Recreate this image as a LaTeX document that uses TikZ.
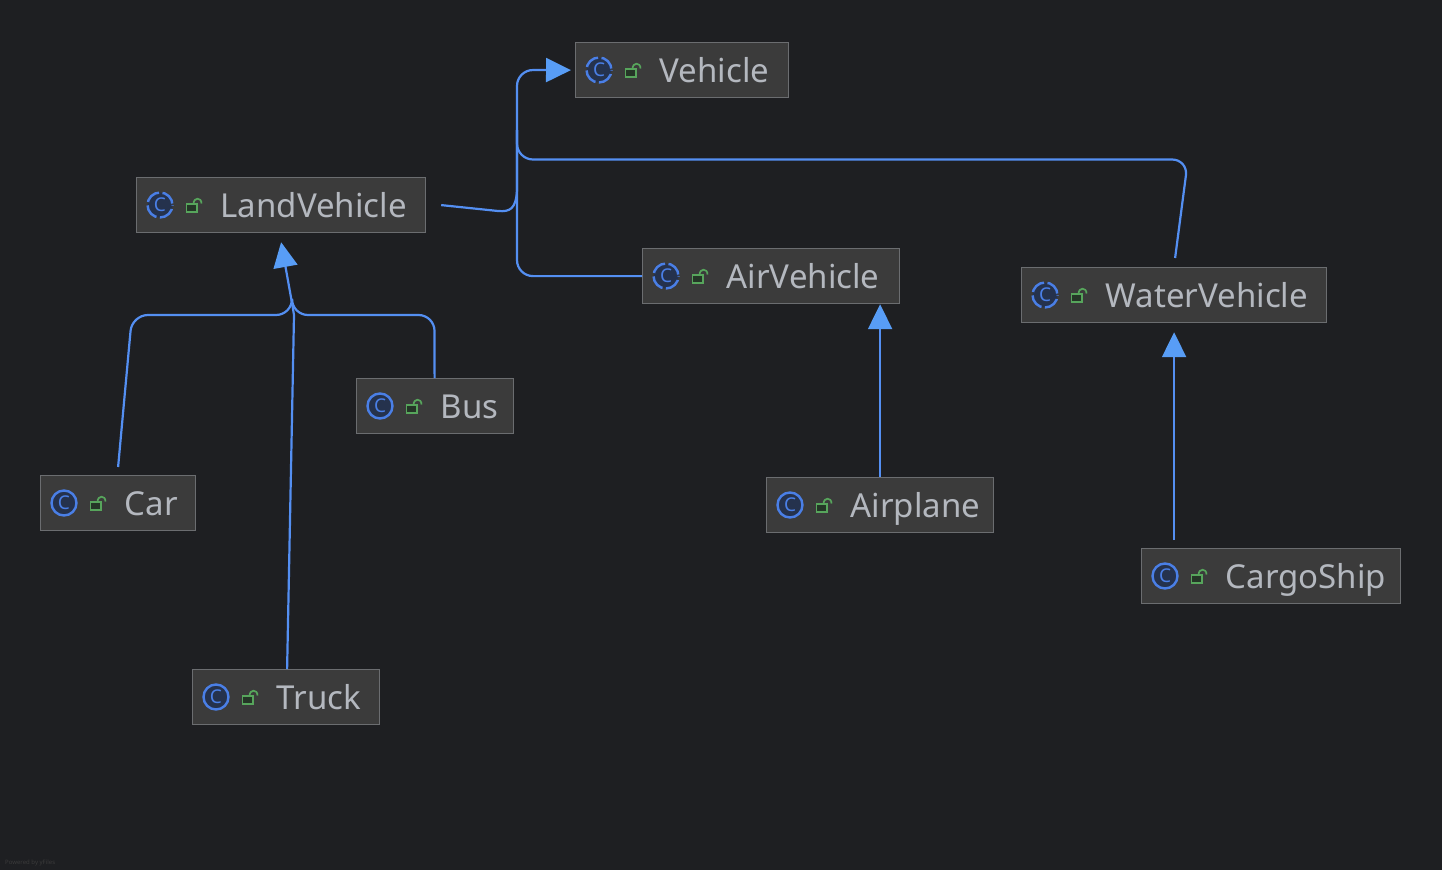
\documentclass[tikz,border=0pt]{standalone}
\usepackage{fontspec}
\setmainfont{Noto Sans}
\usetikzlibrary{arrows.meta, calc}

\definecolor{bgdark}{HTML}{1E1F22}
\definecolor{boxfill}{HTML}{3B3B3B}
\definecolor{boxline}{HTML}{6B6D70}
\definecolor{labelgray}{HTML}{B4B8BF}
\definecolor{edgeblue}{HTML}{548FF2}
\definecolor{tipblue}{HTML}{589DF6}
\definecolor{ringblue}{HTML}{4A7FE6}
\definecolor{ringfill}{HTML}{25324D}
\definecolor{lockgreen}{HTML}{57A55C}
\definecolor{lockfill}{HTML}{253627}

\tikzset{
  classbox/.style={draw=boxline, fill=boxfill, line width=1.2pt, inner sep=0pt, minimum height=55pt, anchor=north west},
  classlabel/.style={text=labelgray, anchor=base west, inner sep=0pt, font=\fontsize{33}{33}\selectfont},
  ringicon/.style={circle, draw=ringblue, fill=ringfill, line width=2.4pt, minimum size=25pt, inner sep=0pt, text=ringblue, font=\fontsize{19}{19}\bfseries\selectfont},
  abstractring/.style={ringicon, dash pattern=on 15.5pt off 3.5pt, dash phase=-1.5pt},
  edge/.style={draw=edgeblue, line width=2.2pt, rounded corners=16pt},
  inherit/.style={edge, -{Triangle[length=25pt,width=24pt,color=tipblue]}}
}

\begin{document}
\begin{tikzpicture}[x=1pt, y=-1pt]
\fill[bgdark] (0, 0) rectangle (1442, 870);
\useasboundingbox (0, 0) rectangle (1442, 870);

% class boxes: name / left / top / width / ring style
\foreach \cname/\cx/\cy/\cw/\cring in {
  Vehicle/575/42/213/abstractring,
  LandVehicle/136/177/289/abstractring,
  AirVehicle/642/248/257/abstractring,
  WaterVehicle/1021/267/305/abstractring,
  Bus/356/378/157/ringicon,
  Car/40/475/155/ringicon,
  Truck/192/669/187/ringicon,
  Airplane/766/477/227/ringicon,
  CargoShip/1141/548/259/ringicon} {
  \node[classbox, minimum width=\cw pt] (\cname) at (\cx, \cy) {};
  \node[\cring] (\cname-ring) at (\cx+24, \cy+28) {C};
  \node[classlabel] (\cname-label) at (\cx+84.5, \cy+40) {\cname};
  % open lock
  \draw[lockgreen, line width=1.7pt, fill=lockfill] (\cx+50.5, \cy+27) rectangle (\cx+61, \cy+35);
  \draw[lockgreen, line width=1.7pt] (\cx+57.5, \cy+27) .. controls (\cx+57.5, \cy+20) and (\cx+65.5, \cy+20) .. (\cx+65.5, \cy+26.5);
}

% edges into Vehicle
\coordinate (trunk) at (517, 70);
\coordinate (landmerge) at (517, 190);
\draw[edge, sharp corners] ([xshift=15pt]LandVehicle.east) -- (498, 211) .. controls (510, 212) and (516, 209) .. (landmerge);
\draw[inherit] (landmerge) -- (trunk) -- ([xshift=-4pt]Vehicle.west);
\draw[edge] (AirVehicle.west) -| (517, 130);
\draw[edge] ([xshift=1pt, yshift=9pt]WaterVehicle.north) -- (1188, 159.5) -- (517, 159.5) -- (517, 130);

% edges into LandVehicle
\coordinate (landjoin) at (292, 303);
\draw[inherit] (landjoin) -- ([yshift=-9pt]LandVehicle.south);
\draw[edge] ([yshift=8pt]Car.north) -- (132, 315) -- (292, 315) -- (landjoin);
\draw[edge] ([xshift=-0.5pt]Bus.north) -- (434.5, 315) -- (292, 315) -- (landjoin);
\draw[edge, sharp corners] ([xshift=1pt]Truck.north) -- (294, 315) -- (landjoin);

% straight edges
\draw[inherit] (Airplane.north) -- (Airplane.north |- AirVehicle.south);
\draw[inherit] ([yshift=8pt]WaterVehicle.south |- CargoShip.north) -- ([yshift=-9pt]WaterVehicle.south);

\node[anchor=base west, inner sep=0pt, text=boxfill, font=\fontsize{6}{6}\selectfont] (credit) at (5, 864) {Powered by yFiles};
\end{tikzpicture}
\end{document}
